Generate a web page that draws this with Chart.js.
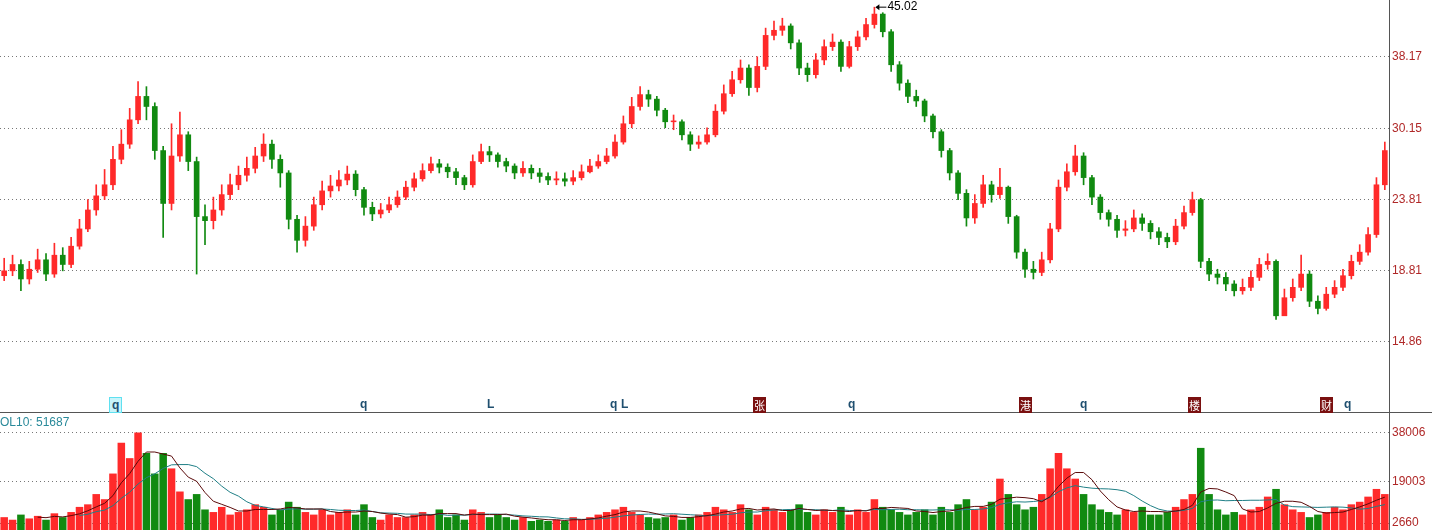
<!DOCTYPE html>
<html><head><meta charset="utf-8">
<script src="https://cdn.jsdelivr.net/npm/chart.js@4/dist/chart.umd.min.js"></script>
<style>
body{margin:0;background:#fff;width:1432px;height:530px;position:relative;overflow:hidden;font-family:Arial,"Liberation Sans",sans-serif}
canvas{position:absolute;left:0}
#c1{top:0}#c2{top:413px}
.sep{position:absolute;left:0;top:412px;width:1432px;height:1px;background:#555}
.vl{position:absolute;left:1389px;top:0;width:1px;height:530px;background:#555}
.m{position:absolute;top:397px;font:bold 12px Arial,sans-serif;color:#1f4f6f}
.b{background:#7a1010;color:#fff;font:11px "Noto Sans CJK SC";padding:0 1px;top:397px}
.v{position:absolute;left:0;top:415px;font:12px Arial,sans-serif;color:#2a8a9a}
</style></head><body>
<canvas id="c1" width="1432" height="412"></canvas>
<canvas id="c2" width="1432" height="117"></canvas>
<div class="sep"></div><div class="vl"></div>
<div class="m" style="left:109px;border:1px solid #5fe0f0;background:#c8f4fa;padding:0 2px">q</div>
<div class="m" style="left:360px">q</div>
<div class="m" style="left:487px">L</div>
<div class="m" style="left:610px">q</div>
<div class="m" style="left:621px">L</div>
<div class="m b" style="left:753px">张</div>
<div class="m" style="left:848px">q</div>
<div class="m b" style="left:1019px">港</div>
<div class="m" style="left:1080px">q</div>
<div class="m b" style="left:1188px">楼</div>
<div class="m b" style="left:1320px">财</div>
<div class="m" style="left:1344px">q</div>
<div class="v">OL10: 51687</div>
<script>
const closes=[18.8,19.2,18.3,18.9,19.5,18.6,19.8,19.2,20.4,21.6,23.0,24.1,25.0,27.2,28.6,31.0,33.5,32.4,28.0,23.5,27.5,29.5,27.0,22.5,22.2,23.0,24.2,25.0,25.8,26.4,27.5,28.6,27.2,26.0,22.3,20.8,21.8,23.4,24.5,24.9,25.4,25.9,24.6,23.2,22.7,23.0,23.4,24.0,24.8,25.5,26.2,26.8,26.5,26.1,25.6,25.0,27.0,27.9,27.6,27.0,26.6,26.0,26.4,26.0,25.7,25.4,25.5,25.3,25.6,26.1,26.6,27.0,27.5,28.8,30.6,32.4,33.7,33.2,32.0,30.8,30.8,29.5,28.6,28.8,29.5,31.9,33.8,35.4,36.8,34.5,37.0,41.0,41.7,42.3,40.0,36.8,36.0,37.8,39.5,40.1,37.0,39.5,40.8,42.5,44.0,41.5,37.2,35.0,33.5,33.0,31.4,29.8,28.0,26.0,24.3,22.4,23.5,25.0,24.2,24.8,22.5,20.0,18.9,18.7,19.5,21.6,24.8,26.1,27.5,25.6,24.0,22.8,22.3,21.5,21.6,22.4,22.0,21.4,21.0,20.7,21.8,22.8,23.8,19.4,18.6,18.4,18.0,17.6,17.8,18.4,19.2,19.4,16.2,17.2,17.8,18.6,17.0,16.6,17.4,17.8,18.5,19.4,20.0,21.2,25.0,28.0];
const highs=[19.6,19.8,19.5,19.4,20.2,19.9,20.6,20.3,21.0,22.3,23.8,25.0,26.3,28.4,30.0,32.2,35.2,34.6,32.8,28.4,30.6,31.8,29.8,27.4,23.4,24.0,25.0,25.9,26.6,27.4,28.3,29.6,29.0,27.6,26.2,22.6,22.5,24.0,25.3,25.8,26.2,26.6,26.2,24.8,23.6,23.5,24.0,24.5,25.3,26.0,26.8,27.4,27.2,26.8,26.4,25.8,27.6,28.6,28.4,27.8,27.3,26.8,27.0,26.7,26.4,26.0,26.1,26.0,26.2,26.7,27.2,27.6,28.2,29.5,31.4,33.4,34.6,34.2,33.5,32.2,31.5,31.0,29.8,29.4,30.2,32.6,34.8,36.4,37.8,37.2,38.2,42.0,43.0,43.4,42.6,40.4,37.4,38.6,40.4,41.2,40.4,40.2,41.6,43.4,45.02,44.2,41.8,37.6,35.4,34.2,33.2,31.6,30.0,28.2,26.2,24.6,24.2,25.8,25.3,26.4,24.9,22.6,20.2,19.4,20.0,22.0,25.4,26.8,28.5,27.8,25.8,24.2,23.0,22.6,22.2,23.0,22.7,22.2,21.7,21.3,22.3,23.3,24.4,23.9,19.6,18.9,18.7,18.2,18.3,18.8,19.6,19.9,19.5,17.7,18.3,19.8,18.8,17.3,17.8,18.2,18.9,19.8,20.5,21.7,25.6,28.8];
const lows=[18.2,18.5,17.6,18.0,18.7,18.2,18.4,18.8,19.0,20.2,21.4,22.6,23.8,24.6,26.8,28.2,30.6,31.0,27.2,21.0,23.0,27.0,26.2,18.6,20.5,21.6,22.6,23.8,24.6,25.3,26.0,27.0,26.4,24.8,21.6,20.0,20.4,21.5,23.0,24.0,24.5,25.0,24.1,22.6,22.2,22.4,22.8,23.2,23.8,24.5,25.3,26.0,26.0,25.6,25.0,24.6,24.8,26.8,27.0,26.5,26.1,25.5,25.7,25.5,25.2,25.0,25.0,24.9,25.0,25.4,26.0,26.4,26.8,27.3,28.6,30.2,32.0,32.4,31.4,30.2,30.0,29.0,28.0,28.2,28.6,29.3,31.6,33.5,35.0,33.6,34.0,36.6,40.4,41.0,39.2,36.0,35.2,35.6,37.2,39.0,36.4,36.8,39.0,40.4,42.0,40.8,36.4,34.2,32.8,32.4,30.8,29.2,27.4,25.4,23.8,21.8,22.0,23.2,23.6,23.9,22.0,19.6,18.4,18.3,18.5,19.3,21.4,24.5,25.8,25.0,23.4,22.3,21.8,21.0,21.1,21.4,21.5,20.9,20.5,20.3,20.5,21.6,22.6,19.0,18.2,18.0,17.6,17.3,17.4,17.6,18.2,18.9,16.0,16.4,17.0,17.6,16.7,16.3,16.5,17.2,17.6,18.3,19.2,19.8,21.0,24.6];
const volumes=[5000,4000,6000,4500,5500,4000,6500,5000,7000,9000,10000,14000,12000,22000,34000,28000,38000,30000,22000,30000,24000,15000,12000,14000,8000,7000,9000,6000,7000,8000,10000,9000,6000,8000,11000,9000,7000,6000,8000,6000,7000,8000,6000,10000,5000,4000,6000,5000,5000,6000,7000,6000,8000,5000,6000,4000,8000,7000,5000,6000,5000,4000,5000,3500,4000,3500,4000,3500,5000,4000,5000,6000,7000,8000,9000,7000,6000,5000,4500,5000,6000,4000,5000,6000,7000,9000,8000,7000,10000,8000,6000,9000,8000,7000,8000,10000,7000,6000,8000,7000,9000,6000,8000,7000,12000,9000,8000,7000,6000,7000,8000,6000,9000,7000,10000,12000,8000,9000,11000,20000,14000,10000,8000,9000,14000,24000,30000,24000,20000,14000,10000,8000,7000,6000,8000,7000,9000,6000,6000,7000,9000,12000,14000,32000,14000,8000,6000,7000,6000,8000,9000,13000,16000,10000,8000,7000,5000,6000,7000,9000,8000,10000,11000,13000,16000,14000];
const priceTicks=[14.86,18.81,23.81,30.15,38.17];
const volTicks=[2660,19003,38006];

const n=closes.length, labels=closes.map((_,i)=>i);
const opens=closes.map((c,i)=>i?closes[i-1]:18.5);
const up=closes.map((c,i)=>c>=opens[i]);
const RED='#ff2a2a',GRN='#118a11';
const col=up.map(u=>u?RED:GRN);
function ma(a,k){return a.map((_,i)=>{if(i<k-1)return null;let s=0;for(let j=i-k+1;j<=i;j++)s+=a[j];return s/k;});}
const axisW=43;
const fitW=s=>{s.width=axisW;s.paddingTop=0;s.paddingBottom=0;};
const common={responsive:false,animation:false,plugins:{legend:{display:false},tooltip:{enabled:false}}};
const ann={id:'ann',afterDatasetsDraw(ch){const i=highs.indexOf(45.02);const x=ch.scales.x.getPixelForValue(i),y=ch.scales.y.getPixelForValue(45.02);const c=ch.ctx;c.save();c.strokeStyle='#000';c.fillStyle='#000';c.beginPath();c.moveTo(x+2,y);c.lineTo(x+12,y);c.stroke();c.beginPath();c.moveTo(x+1,y);c.lineTo(x+5,y-3);c.lineTo(x+5,y+3);c.fill();c.font='12px Arial';c.textBaseline='middle';c.fillText('45.02',x+13,y);c.restore();}};
const diag={id:'diag',afterLayout(ch){const a=ch.chartArea;if(ch.canvas.id==='c1'){window._pad=a;}}};
new Chart(document.getElementById('c1'),{type:'bar',data:{labels,datasets:[
{data:closes.map((c,i)=>[lows[i],highs[i]]),backgroundColor:col,barThickness:1,grouped:false},
{data:closes.map((c,i)=>[opens[i],c===opens[i]?c*1.003:c]),backgroundColor:col,barThickness:5,grouped:false}]},
options:{...common,layout:{padding:{top:-9,bottom:-11,left:0,right:0}},scales:{
x:{display:false,offset:true},
y:{type:'logarithmic',position:'right',min:11.78,max:46.1,afterFit:fitW,
afterBuildTicks(s){s.ticks=priceTicks.map(v=>({value:v}));},
ticks:{color:'#b02828',font:{size:12,family:'Arial'},padding:3,callback:v=>Number(v).toFixed(2)},
grid:{color:'#777',drawTicks:false,lineWidth:1},border:{display:false,dash:[1,3]}}}},plugins:[ann]});
new Chart(document.getElementById('c2'),{type:'bar',data:{labels,datasets:[
{type:'line',data:ma(volumes,5),borderColor:'#5a0a0a',borderWidth:1,pointRadius:0},
{type:'line',data:ma(volumes,10),borderColor:'#1f7f86',borderWidth:1,pointRadius:0},
{data:volumes,backgroundColor:col,barPercentage:1,categoryPercentage:0.9}]},
options:{...common,layout:{padding:{top:-6,bottom:-14,left:0,right:0}},scales:{
x:{display:false,offset:true},
y:{position:'right',min:0,max:45600,afterFit:fitW,
afterBuildTicks(s){s.ticks=volTicks.map(v=>({value:v}));},
ticks:{color:'#b02828',font:{size:12,family:'Arial'},padding:3,callback:v=>String(v)},
grid:{color:'#777',drawTicks:false},border:{display:false,dash:[1,3]}}}}});
</script></body></html>
